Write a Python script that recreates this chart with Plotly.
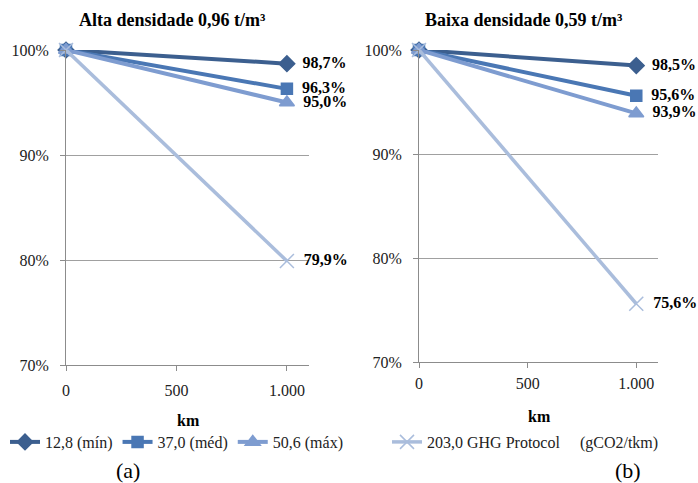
import plotly.graph_objects as go

km = [0, 1000]
series_names = ["12,8 (mín)", "37,0 (méd)", "50,6 (máx)",
                "203,0 GHG Protocol\u00a0\u00a0\u00a0\u00a0 (gCO2/tkm)"]
alta_end = [98.7, 96.3, 95.0, 79.9]
baixa_end = [98.5, 95.6, 93.9, 75.6]
alta_labels = ["98,7%", "96,3%", "95,0%", "79,9%"]
baixa_labels = ["98,5%", "95,6%", "93,9%", "75,6%"]
y_ticks = [70, 80, 90, 100]
y_tick_labels = ["70%", "80%", "90%", "100%"]
x_ticks = [0, 500, 1000]
x_tick_labels = ["0", "500", "1.000"]

colors = ["#3C5F8F", "#4A77B4", "#7E9CD0", "#AABDDC"]
symbols = ["diamond", "square", "triangle-up", "x-thin"]
msizes = [12, 11, 13, 14]
FONT = "Liberation Serif, Times New Roman, serif"

fig = go.Figure()
for panel, (ends, labels, xa, ya) in enumerate([(alta_end, alta_labels, "x", "y"),
                                                (baixa_end, baixa_labels, "x2", "y2")]):
    for i in range(4):
        show = (panel == 0 and i < 3) or (panel == 1 and i == 3)
        fig.add_trace(go.Scatter(
            x=km, y=[100, ends[i]], xaxis=xa, yaxis=ya,
            mode="lines+markers+text",
            name=series_names[i],
            line=dict(color=colors[i], width=4 if i < 3 else 3.5),
            marker=dict(symbol=symbols[i], size=msizes[i], color=colors[i],
                        line=dict(color=colors[i], width=1.5)),
            text=["", "\u2009\u00a0<b>" + labels[i] + "</b>"],
            textposition="middle right",
            textfont=dict(family=FONT, size=16, color="black"),
            cliponaxis=False,
            showlegend=show,
            legend="legend" if i < 3 else "legend2",
        ))

H = 483.0
W = 698.0


def xaxis(dom, anchor, standoff):
    return dict(domain=dom, range=[0, 1100], tickvals=x_ticks, ticktext=x_tick_labels,
                ticks="outside", ticklen=5, tickcolor="#8C8C8C", anchor=anchor,
                showgrid=False, zeroline=False, showline=True, linecolor="#8C8C8C", linewidth=1,
                ticklabelstandoff=standoff, automargin=False,
                tickfont=dict(family=FONT, size=16, color="#222"))


def yaxis(dom, anchor):
    return dict(domain=dom, range=[70, 100], tickvals=y_ticks, ticktext=y_tick_labels,
                ticks="outside", ticklen=5, tickcolor="#8C8C8C", anchor=anchor,
                showgrid=True, gridcolor="#A0A0A0", gridwidth=1,
                zeroline=False, showline=True, linecolor="#8C8C8C", linewidth=1,
                ticklabelstandoff=8, automargin=False,
                tickfont=dict(family=FONT, size=16, color="#222"))


fig.update_layout(
    width=698, height=483,
    margin=dict(l=0, r=0, t=0, b=0, pad=0, autoexpand=False),
    plot_bgcolor="white", paper_bgcolor="white",
    xaxis=xaxis([66 / W, 309 / W], "y", 6),
    yaxis=yaxis([1 - 365 / H, 1 - 50 / H], "x"),
    xaxis2=xaxis([419 / W, 658 / W], "y2", 2),
    yaxis2=yaxis([1 - 362 / H, 1 - 50 / H], "x2"),
    legend=dict(orientation="h", x=5 / W, y=1 - 442 / H, xanchor="left", yanchor="middle",
                font=dict(family=FONT, size=16, color="#222"), itemwidth=30,
                bgcolor="rgba(0,0,0,0)"),
    legend2=dict(orientation="h", x=387 / W, y=1 - 442 / H, xanchor="left", yanchor="middle",
                 font=dict(family=FONT, size=16, color="#222"), itemwidth=30,
                 bgcolor="rgba(0,0,0,0)"),
)

annotations = [
    dict(text="<b>Alta densidade 0,96 t/m³</b>", x=172 / W, y=1 - 20 / H, size=18),
    dict(text="<b>Baixa densidade 0,59 t/m³</b>", x=524 / W, y=1 - 20 / H, size=18),
    dict(text="<b>km</b>", x=188 / W, y=1 - 420 / H, size=16),
    dict(text="<b>km</b>", x=539 / W, y=1 - 416 / H, size=16),
    dict(text="(a)", x=128 / W, y=1 - 470 / H, size=22),
    dict(text="(b)", x=628 / W, y=1 - 470 / H, size=22),
]
for a in annotations:
    fig.add_annotation(text=a["text"], x=a["x"], y=a["y"], xref="paper", yref="paper",
                       showarrow=False, xanchor="center", yanchor="middle",
                       font=dict(family=FONT, size=a["size"], color="black"))

fig.write_html("out.html", config={"displayModeBar": False},
               post_script="document.body.style.margin='0';document.body.style.overflow='hidden';")
